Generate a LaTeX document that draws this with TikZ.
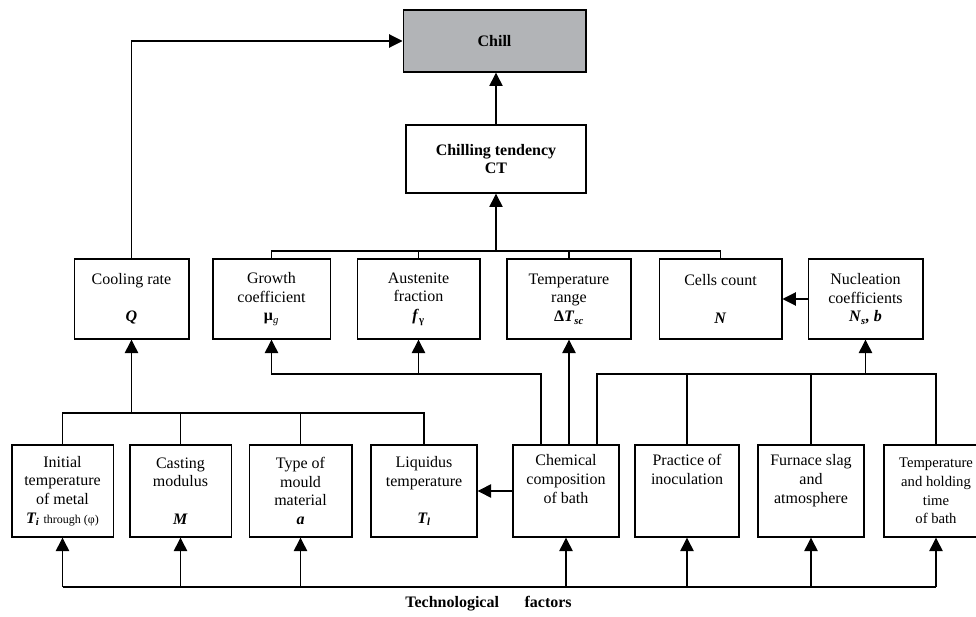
\documentclass[tikz,border=0pt]{standalone}
\usepackage{fontspec}
\setmainfont{Liberation Serif}
\usetikzlibrary{arrows.meta,calc}
\definecolor{chillgray}{RGB}{178,180,183}

\begin{document}
\begin{tikzpicture}[x=0.75pt,y=-0.75pt,
        font=\fontsize{12}{14}\selectfont,
        line width=0.8pt,
        arr/.style={-{Triangle[length=10pt,width=10pt]}},
        box/.style={draw,line width=1pt,align=center,inner sep=0pt},
        upper/.style={box,minimum width=#1,minimum height=60pt},
        lower/.style={box,minimum width=#1,minimum height=69pt}]
    \useasboundingbox (0,0) rectangle (976,617);

    % result
    \node[box,fill=chillgray,minimum width=137pt,minimum height=46.5pt,font=\fontsize{12}{14}\selectfont\bfseries]
        (chill) at (494.5,41) {Chill};
    \node[box,minimum width=135pt,minimum height=51pt,font=\fontsize{12}{14}\selectfont\bfseries]
        (ct) at (496,159) {Chilling tendency\\CT};

    % parameters
    \node[upper=86pt] (cool) at (131.5,299) {Cooling rate\\\strut\\\textbf{\textit{Q}}};
    \node[upper=88pt] (growth) at (271.5,299) {Growth\\coefficient\\\textbf{μ}\textsubscript{\textit{g}}};
    \node[upper=92pt] (aust) at (418.5,299) {Austenite\\fraction\\\textbf{\textit{f}\textsubscript{γ}}};
    \node[upper=93pt] (trange) at (569,299) {Temperature\\range\\\textbf{Δ\textit{T}\textsubscript{\textit{sc}}}};
    \node[upper=92pt] (cells) at (720.5,299) {Cells count\\\strut\\\textbf{\textit{N}}};
    \node[upper=86pt] (nucl) at (865.5,299) {Nucleation\\coefficients\\\textbf{\textit{N}\textsubscript{\textit{s}}\textit{, b}}};

    % technological inputs
    \node[lower=76pt] (init) at (62.5,491) {Initial\\temperature\\of metal\\\textbf{\textit{T\textsubscript{i}}} {\fontsize{9}{14}\selectfont through (φ)}};
    \node[lower=76pt] (cast) at (180.5,491) {Casting\\modulus\\\strut\\\textbf{\textit{M}}};
    \node[lower=77pt] (mould) at (300.5,491) {Type of\\mould\\material\\\textbf{\textit{a}}};
    \node[lower=79.5pt] (liq) at (424,491) {Liquidus\\temperature\\\strut\\\textbf{\textit{T\textsubscript{l}}}};
    \node[lower=79.5pt] (chem) at (566,491) {Chemical\\composition\\of bath\\\strut};
    \node[lower=78pt] (prac) at (687,491) {Practice of\\inoculation\\\strut\\\strut};
    \node[lower=79.5pt] (furn) at (811,491) {Furnace slag\\and\\atmosphere\\\strut};
    \node[lower=78pt,font=\fontsize{11}{14}\selectfont] (thold) at (936,491) {Temperature\\and holding\\time\\of bath};

    \node[font=\fontsize{12}{14}\selectfont\bfseries] (tech) at (488.5,604) {Technological\hspace{1.6em}factors};

    \coordinate (topbus) at (496,251);
    \coordinate (coolbus) at (131.5,413);
    \coordinate (midbus) at (0,374);
    \coordinate (techbus) at (0,587);

    % to chill
    \draw[arr] (cool.north) |- (chill.west);
    \draw[arr] (ct.north) -- (ct.north |- chill.south);
    \draw[arr] (topbus) -- (ct.south);
    \draw (growth.north) -- (growth.north |- topbus) -| (cells.north);
    \draw (aust.north) -- (aust.north |- topbus);
    \draw (trange.north) -- (trange.north |- topbus);

    % cooling rate inputs
    \draw[arr] (coolbus) -- (cool.south);
    \draw (init.north) -- (init.north |- coolbus) -| (liq.north);
    \draw (cast.north) -- (cast.north |- coolbus);
    \draw (mould.north) -- (mould.north |- coolbus);

    % chemical composition and melt practice
    \draw[arr] ($(chem.north)+(-25,0)$) |- (growth.south |- midbus) -- (growth.south);
    \draw[arr] (aust.south |- midbus) -- (aust.south);
    \draw[arr] (chem.north -| trange.south) -- (trange.south);
    \draw ($(chem.north)+(31,0)$) |- (thold.north |- midbus) -- (thold.north);
    \draw (prac.north) -- (prac.north |- midbus);
    \draw (furn.north) -- (furn.north |- midbus);
    \draw[arr] (nucl.south |- midbus) -- (nucl.south);
    \draw[arr] (nucl.west) -- (cells.east);
    \draw[arr] (chem.west) -- (liq.east);

    % technological factors
    \draw (init.south |- techbus) -- (thold.south |- techbus);
    \foreach \n in {init,cast,mould,chem,prac,furn,thold}
        \draw[arr] (\n.south |- techbus) -- (\n.south);
\end{tikzpicture}
\end{document}
